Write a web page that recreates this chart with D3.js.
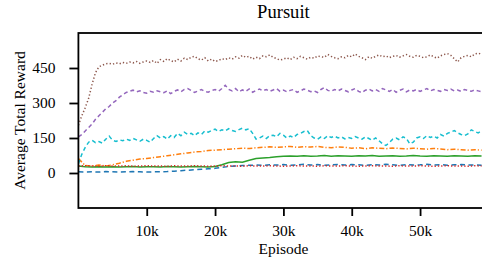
<!DOCTYPE html>
<html>
<head>
<meta charset="utf-8">
<script src="https://cdn.jsdelivr.net/npm/d3@7"></script>
<style>
html,body{margin:0;padding:0;background:#fff;}
svg{display:block;}
</style>
</head>
<body>
<svg id="chart" width="482" height="262"></svg>
<script>
// ---- Data ----
const title = "Pursuit";
const xLabel = "Episode";
const yLabel = "Average Total Reward";
const xTickValues = [10000, 20000, 30000, 40000, 50000];
const xTickLabels = ["10k", "20k", "30k", "40k", "50k"];
const yTickValues = [0, 150, 300, 450];
const yTickLabels = ["0", "150", "300", "450"];

// fine episodes: every 500, coarse: every 1000
const episodesFine = d3.range(0, 60000, 500);
const episodesCoarse = d3.range(0, 60000, 1000);

const blueValues = [5,4,5,4,6,5,4,5,6,5,4,5,5,6,8,10,12,14,16,18,20,24,28,30,32,33,34,33,35,34,36,33,35,37,34,36,33,35,37,34,36,35,33,36,34,37,35,33,36,34,35,37,34,36,33,35,36,34,35,33];
const orangeValues = [62,32,30,34,30,35,42,50,55,60,62,66,70,74,78,82,86,90,92,96,98,100,102,104,106,105,108,110,112,110,112,114,110,113,111,114,110,108,112,110,106,108,104,108,106,104,107,105,103,106,104,102,105,103,100,102,100,98,100,98];
const greenValues = [30,27,26,27,26,27,26,27,28,26,27,27,26,28,27,26,27,28,27,26,28,35,45,48,46,55,62,64,66,70,72,73,72,74,72,73,75,72,74,73,72,74,73,75,72,73,74,72,73,75,73,72,74,73,72,74,73,72,74,73];
const redValues = [30,31,30,29,31,30,30,31,29,30,31,30,30,29,31,30,30,31,30,29,30,31,30,30,29,31,30,30,31,30,29,30,31,30,30,29,31,30,30,31,30,29,30,31,30,30,29,31,30,30,31,30,29,30,31,30,30,29,31,30];
const purpleValues = [155,165,180,195,210,230,245,260,275,285,300,310,325,335,345,350,355,348,352,345,342,350,346,352,348,344,352,340,350,356,348,358,362,354,345,352,358,350,346,354,358,350,362,376,358,352,362,348,356,350,360,346,354,360,352,358,350,356,362,350,355,348,354,358,346,352,360,355,348,352,345,358,366,354,350,358,352,360,354,348,356,362,350,344,355,360,352,358,350,362,356,350,358,346,354,360,348,356,352,358,350,356,362,352,358,354,350,358,354,360,352,356,350,358,354,350,356,352,348,345];
const brownValues = [205,245,280,320,380,430,455,462,468,470,466,472,468,474,470,476,472,478,470,476,480,474,482,470,486,478,490,482,476,488,480,492,486,496,500,490,484,494,480,488,478,482,490,486,494,488,498,492,504,496,500,488,496,490,502,498,506,496,490,484,488,494,486,496,490,500,494,488,496,492,502,498,496,508,500,494,490,498,494,504,498,510,500,494,486,498,492,500,506,498,502,494,500,504,496,502,508,500,496,504,500,494,498,506,498,492,502,508,512,504,490,476,494,500,504,498,510,514,508,512];
const cyanValues = [40,80,110,132,140,130,135,128,145,158,140,135,142,138,145,140,148,142,136,145,140,132,148,160,150,156,145,160,152,170,160,175,165,170,160,172,165,180,175,182,188,178,185,180,190,182,178,186,192,185,190,170,145,150,158,148,160,162,155,170,162,150,158,152,165,170,178,182,160,150,145,155,148,160,152,158,150,155,146,152,148,156,150,145,155,148,140,150,138,125,118,130,145,150,142,155,148,125,132,150,155,148,160,152,158,150,165,158,170,175,182,172,165,160,168,185,178,172,180,176];

const series = [
  {name:"blue",   x: episodesCoarse, y: blueValues,   color:"#1f77b4", dash:"5,3.5"},
  {name:"orange", x: episodesCoarse, y: orangeValues, color:"#ff7f0e", dash:"5,2,1.2,2"},
  {name:"green",  x: episodesCoarse, y: greenValues,  color:"#2ca02c", dash:null},
  {name:"red",    x: episodesCoarse, y: redValues,    color:"#d62728", dash:"1.3,2"},
  {name:"purple", x: episodesFine,   y: purpleValues, color:"#9467bd", dash:"4,3"},
  {name:"brown",  x: episodesFine,   y: brownValues,  color:"#8c564b", dash:"1.3,2.2"},
  {name:"cyan",   x: episodesFine,   y: cyanValues,   color:"#17becf", dash:"4,3"}
];

// ---- Layout ----
const FONT = "'Liberation Serif', serif";
const mLeft = 78.4, mRight = 488.4, mTop = 33, mBottom = 208;
const svg = d3.select("#chart");

const x = d3.scaleLinear().domain([0, 60000]).range([mLeft, mRight]);
const y = d3.scaleLinear().domain([-150, 600]).range([mBottom, mTop]);

svg.append("defs").append("clipPath").attr("id","clip")
  .append("rect").attr("x", mLeft).attr("y", mTop).attr("width", mRight-mLeft).attr("height", mBottom-mTop);

const plot = svg.append("g").attr("clip-path","url(#clip)");
const line = d3.line().x(d => x(d[0])).y(d => y(d[1]));

series.forEach(s => {
  const pts = s.x.map((e,i) => [e, s.y[i]]);
  const p = plot.append("path")
    .attr("d", line(pts))
    .attr("fill","none")
    .attr("stroke", s.color)
    .attr("stroke-width", 1.5);
  if (s.dash) p.attr("stroke-dasharray", s.dash);
});

// Axes
const xAxis = d3.axisBottom(x).tickValues(xTickValues)
  .tickFormat((d,i) => xTickLabels[i]).tickSize(8).tickPadding(9);
const gx = svg.append("g").attr("transform", `translate(0,${mBottom})`).call(xAxis);
gx.attr("font-family", FONT).attr("font-size", 15.5);
gx.select(".domain").remove();
gx.selectAll("line").attr("stroke","#000").attr("stroke-width",1.8);

const yAxis = d3.axisLeft(y).tickValues(yTickValues)
  .tickFormat((d,i) => yTickLabels[i]).tickSize(9).tickPadding(14);
const gy = svg.append("g").attr("transform", `translate(${mLeft},0)`).call(yAxis);
gy.attr("font-family", FONT).attr("font-size", 15.5);
gy.select(".domain").remove();
gy.selectAll("line").attr("stroke","#000").attr("stroke-width",1.8);

// Spines
svg.append("rect").attr("x", mLeft).attr("y", mTop)
  .attr("width", mRight-mLeft).attr("height", mBottom-mTop)
  .attr("fill","none").attr("stroke","#000").attr("stroke-width",1.8);

// Labels
svg.append("text").attr("x", (mLeft+mRight)/2).attr("y", 17.5)
  .attr("text-anchor","middle").attr("font-size", 18.6).text(title);
svg.append("text").attr("x", (mLeft+mRight)/2).attr("y", 254)
  .attr("text-anchor","middle").attr("font-size", 15.5).text(xLabel);
svg.append("text").attr("transform", `translate(24.5,${(mTop+mBottom)/2}) rotate(-90)`)
  .attr("text-anchor","middle").attr("font-size", 15.5).text(yLabel);

svg.selectAll("text").attr("font-family", FONT).style("font-family", FONT).attr("fill", "#000");
</script>
</body>
</html>
